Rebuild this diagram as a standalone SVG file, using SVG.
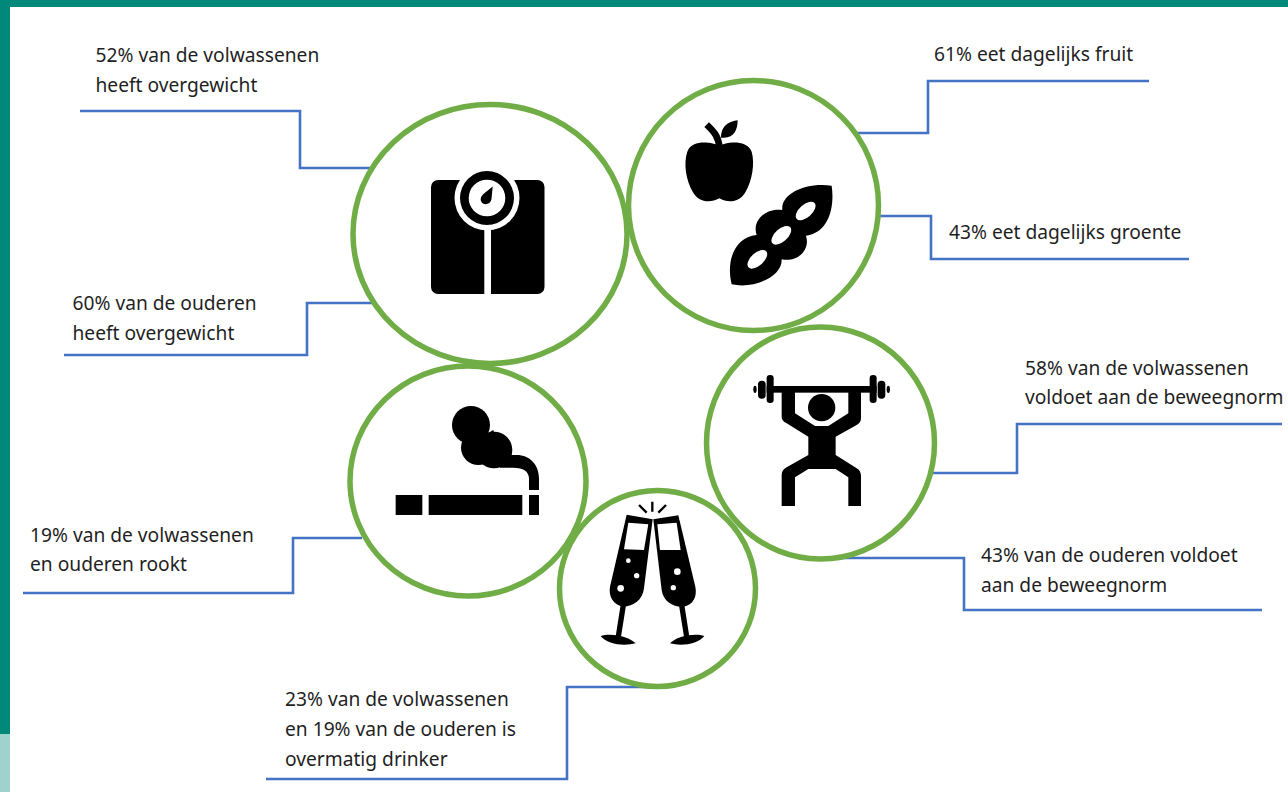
<svg xmlns="http://www.w3.org/2000/svg" width="1288" height="792" viewBox="0 0 1288 792">
<style>
text{font-family:"Noto Sans","Open Sans","Liberation Sans",sans-serif;font-size:19.2px;fill:#1f1f1f}
.c{fill:none;stroke:#4472C4;stroke-width:2.600}
.o{fill:none;stroke:#70AD47;stroke-width:5.500}
.f{fill:#fff;stroke:#70AD47;stroke-width:5.500}
.w{fill:#fff}
</style>
<rect width="1288" height="792" fill="#fff"/>
<g id="frame">
<rect width="1288" height="7" fill="#00897B"/>
<rect width="10" height="734" fill="#00897B"/>
<rect y="734" width="10" height="58" fill="#A0D2CD"/>
</g>
<g id="connectors">
<path class="c" d="M80 111H300V168H370"/>
<path class="c" d="M64 355H307V303H372"/>
<path class="c" d="M857 133H928V81H1149"/>
<path class="c" d="M877 216H931V259H1189"/>
<path class="c" d="M930 473H1017V424H1282"/>
<path class="c" d="M842 558H964V610H1262"/>
<path class="c" d="M23 593H293V538H362"/>
<path class="c" d="M266 779H567V687H648"/>
</g>
<g id="node-weight">
<ellipse class="o" cx="490" cy="234" rx="137" ry="129.500"/>
<rect x="431" y="180" width="113.500" height="114" rx="7"/>
<circle class="w" cx="487" cy="198" r="32.500"/>
<rect class="w" x="484.300" y="220" width="6.700" height="75"/>
<circle cx="487" cy="198" r="27"/>
<circle class="w" cx="487" cy="198" r="18.300"/>
<path d="M492.700 186.500L491.500 199C490.500 205 483 206 481 201C480 198 482 195 484 193.500Z"/>
<text x="95.500" y="62">52% van de volwassenen</text>
<text x="95.500" y="92">heeft overgewicht</text>
<text x="72.500" y="310">60% van de ouderen</text>
<text x="72.500" y="340">heeft overgewicht</text>
</g>
<g id="node-food">
<circle class="o" cx="753.500" cy="205.500" r="125"/>
<g transform="translate(640 90) scale(.3333)">
<path d="M238 168C260 155 320 148 335 185C345 220 337 270 317 305C300 337 265 340 238 325C210 340 175 337 158 305C138 270 130 220 142 185C155 148 215 155 238 168Z"/>
<path d="M200 104C222 125 236 140 238 172" fill="none" stroke="#000" stroke-width="20"/>
<path d="M243 143C243 105 268 95 293 91C293 118 282 148 243 143Z"/>
<path d="M575 287C584 345 570 428 498 437C512 480 472 518 425 508C428 558 345 598 275 583C258 515 282 442 350 435C335 392 378 352 427 360C422 312 495 276 575 287Z"/>
<ellipse class="w" cx="497" cy="363" rx="36" ry="19" transform="rotate(-42 497 363)"/>
<ellipse class="w" cx="424" cy="436" rx="36" ry="19" transform="rotate(-42 424 436)"/>
<ellipse class="w" cx="352" cy="508" rx="36" ry="19" transform="rotate(-42 352 508)"/>
</g>
<text x="934" y="61">61% eet dagelijks fruit</text>
<text x="949" y="239">43% eet dagelijks groente</text>
</g>
<g id="node-smoking">
<ellipse class="o" cx="468" cy="481" rx="118" ry="115"/>
<g transform="translate(370 380) scale(.3333)">
<rect x="77" y="345" width="80" height="60"/>
<rect x="176" y="345" width="281" height="60"/>
<rect x="477" y="345" width="30" height="60"/>
<circle cx="303" cy="135" r="57"/>
<circle cx="325" cy="203" r="52"/>
<circle cx="372" cy="210" r="55"/>
<path d="M300 190L370 150L400 240L320 250Z"/>
<path d="M390 225H440C480 225 507 255 507 295V330H477V295C477 275 460 263 430 263H390Z"/>
</g>
<text x="30" y="542">19% van de volwassenen</text>
<text x="30" y="571">en ouderen rookt</text>
</g>
<g id="node-exercise">
<ellipse class="o" cx="820.500" cy="443" rx="114" ry="116"/>
<g transform="translate(730 360) scale(.3333)">
<rect x="110" y="78" width="330" height="20"/>
<rect x="110" y="45" width="21" height="84" rx="10"/>
<rect x="419" y="45" width="21" height="84" rx="10"/>
<rect x="84" y="62" width="23" height="54" rx="11"/>
<rect x="443" y="62" width="23" height="54" rx="11"/>
<ellipse cx="75" cy="88" rx="5" ry="11"/>
<ellipse cx="475" cy="88" rx="5" ry="11"/>
<circle cx="275" cy="143" r="41"/>
<path d="M155 95H195V160L255 198H295L355 160V95H393V175C393 185 388 190 380 195L317 230V285L380 325C390 330 393 340 393 350V438H355V352L317 327H235L195 352V438H155V345C155 335 160 328 170 322L235 285V230L170 190C160 185 155 178 155 170Z"/>
</g>
<text x="1025" y="375">58% van de volwassenen</text>
<text x="1025" y="404">voldoet aan de beweegnorm</text>
<text x="981" y="562">43% van de ouderen voldoet</text>
<text x="981" y="592">aan de beweegnorm</text>
</g>
<g id="node-alcohol">
<circle class="f" cx="657.500" cy="588.500" r="98"/>
<g transform="translate(570 490) scale(.3333)">
<path d="M170 74L248 88L222 295C218 330 190 350 160 350C130 345 115 320 120 290Z"/>
<path class="w" d="M175 98L235 103L222 180L162 178Z"/>
<path d="M325 76L250 88L275 300C280 335 310 352 340 350C370 345 382 320 376 290Z"/>
<path class="w" d="M262 103L320 98L332 180L270 180Z"/>
<path d="M160 345L145 440M335 345L350 440" stroke="#000" stroke-width="16" fill="none"/>
<path d="M92 438C120 428 175 438 197 460C160 470 110 462 92 438Z"/>
<path d="M403 438C375 428 320 438 300 460C335 470 385 462 403 438Z"/>
<circle class="w" cx="175" cy="212" r="7"/>
<circle class="w" cx="200" cy="257" r="8"/>
<circle class="w" cx="152" cy="295" r="10"/>
<circle class="w" cx="322" cy="245" r="10"/>
<circle class="w" cx="310" cy="293" r="8"/>
<path d="M207 45L230 68M247 35V65M288 45L265 68" stroke="#000" stroke-width="7" fill="none"/>
</g>
<text x="285" y="706">23% van de volwassenen</text>
<text x="285" y="736">en 19% van de ouderen is</text>
<text x="285" y="766">overmatig drinker</text>
</g>
</svg>
